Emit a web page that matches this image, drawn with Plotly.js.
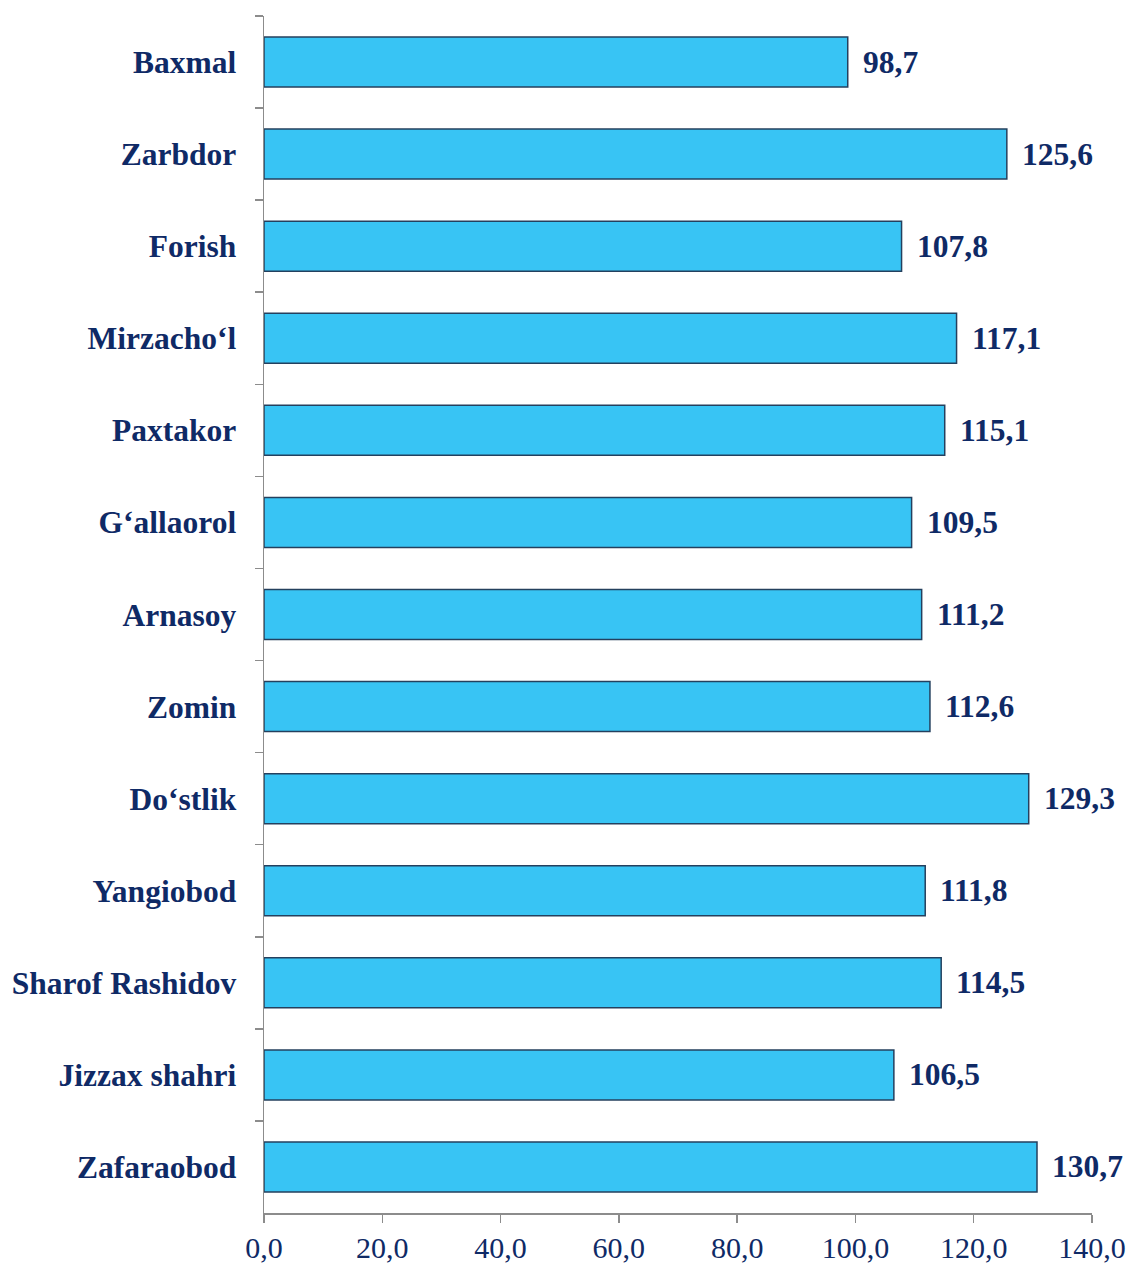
<!DOCTYPE html>
<html>
<head>
<meta charset="utf-8">
<script src="https://cdn.plot.ly/plotly-3.0.1.min.js"></script>
<style>html,body{margin:0;padding:0;background:#fff;}</style>
</head>
<body>
<div id="chart" style="width:1130px;height:1264px;"></div>
<script>
const categories = ["Baxmal","Zarbdor","Forish","Mirzacho\u2018l","Paxtakor","G\u2018allaorol","Arnasoy","Zomin","Do\u2018stlik","Yangiobod","Sharof Rashidov","Jizzax shahri","Zafaraobod"];
const values = [98.7,125.6,107.8,117.1,115.1,109.5,111.2,112.6,129.3,111.8,114.5,106.5,130.7];
const xTicks = [0,20,40,60,80,100,120,140];

const navy = '#0f2a66';
const serif = 'Liberation Serif, Times New Roman, serif';
const fmt = v => v.toFixed(1).replace('.', ',');

const trace = {
  type: 'bar',
  orientation: 'h',
  y: categories,
  x: values,
  marker: {color: '#38c4f4', line: {color: '#24405e', width: 1.5}},
  hoverinfo: 'skip'
};

const annotations = values.map((v, i) => ({
  x: v, y: categories[i], xref: 'x', yref: 'y',
  text: '<b>' + fmt(v) + '</b>', showarrow: false,
  xanchor: 'left', yanchor: 'middle', xshift: 13,
  font: {family: serif, size: 31.5, color: navy}
}));

const layout = {
  width: 1130, height: 1264,
  margin: {l: 264, r: 38, t: 16, b: 51},
  paper_bgcolor: '#fff', plot_bgcolor: '#fff',
  separators: ', ',
  showlegend: false,
  bargap: 0.457,
  font: {family: serif, color: navy},
  xaxis: {
    range: [0, 140], tickvals: xTicks, tickformat: '.1f',
    showgrid: false, zeroline: false,
    showline: true, linecolor: '#8c8c8c', linewidth: 1.5,
    ticks: 'outside', ticklen: 8, tickcolor: '#8c8c8c', tickwidth: 1.5,
    ticklabelstandoff: -1,
    tickfont: {size: 30, color: navy, family: serif}
  },
  yaxis: {
    autorange: 'reversed', type: 'category',
    showgrid: false, zeroline: false,
    showline: true, linecolor: '#8c8c8c', linewidth: 1.5,
    ticks: 'outside', ticklen: 8, tickcolor: '#8c8c8c', tickwidth: 1.5,
    tickson: 'boundaries',
    ticklabelstandoff: 20,
    tickfont: {size: 31.5, color: navy, family: serif, weight: 'bold'}
  },
  annotations: annotations
};

Plotly.newPlot('chart', [trace], layout, {displayModeBar: false, staticPlot: true});
</script>
</body>
</html>
